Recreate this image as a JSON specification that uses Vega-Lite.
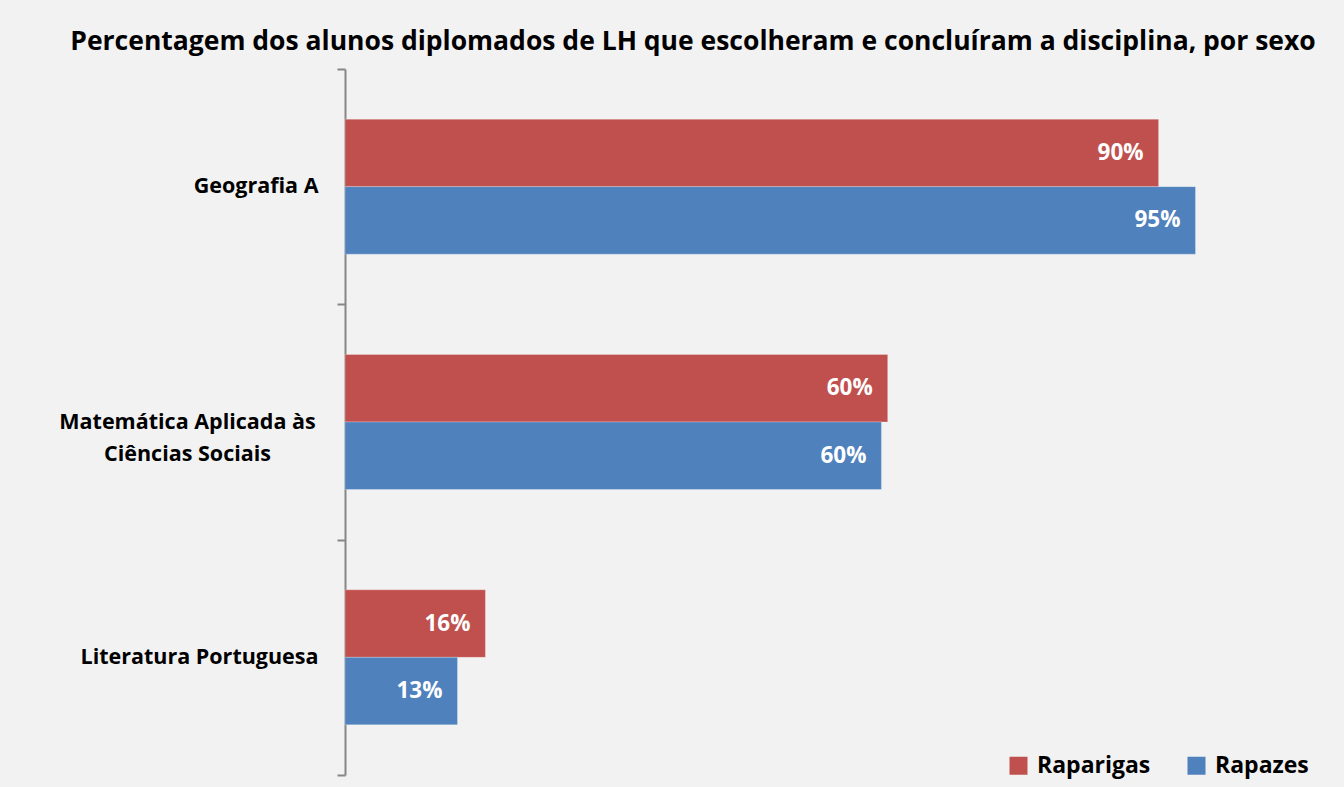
{
  "$schema": "https://vega.github.io/schema/vega-lite/v6.json",
  "width": 900,
  "height": 706,
  "autosize": {"type": "none"},
  "padding": {"left": 345, "top": 69, "right": 99, "bottom": 12},
  "background": "#f2f2f2",
  "config": {
    "view": {"stroke": null},
    "font": "Open Sans"
  },
  "title": {
    "text": "Percentagem dos alunos diplomados de LH que escolheram e concluíram a disciplina, por sexo",
    "font": "Open Sans",
    "fontSize": 26.5,
    "fontWeight": "bold",
    "color": "#000000",
    "anchor": "middle",
    "dx": -102,
    "offset": 3
  },
  "data": {
    "values": [
      {"disciplina": "Geografia A", "sexo": "Raparigas", "valor": 0.904},
      {"disciplina": "Geografia A", "sexo": "Rapazes", "valor": 0.945},
      {"disciplina": "Matemática Aplicada às Ciências Sociais", "sexo": "Raparigas", "valor": 0.603},
      {"disciplina": "Matemática Aplicada às Ciências Sociais", "sexo": "Rapazes", "valor": 0.596},
      {"disciplina": "Literatura Portuguesa", "sexo": "Raparigas", "valor": 0.156},
      {"disciplina": "Literatura Portuguesa", "sexo": "Rapazes", "valor": 0.125}
    ]
  },
  "encoding": {
    "y": {
      "field": "disciplina",
      "type": "nominal",
      "sort": ["Geografia A", "Matemática Aplicada às Ciências Sociais", "Literatura Portuguesa"],
      "scale": {"paddingInner": 0, "paddingOuter": 0},
      "axis": {
        "title": null,
        "domainColor": "#868686",
        "domainWidth": 2,
        "tickColor": "#868686",
        "tickWidth": 2,
        "tickSize": 8,
        "tickBand": "extent",
        "labelFont": "Open Sans",
        "labelFontSize": 21.5,
        "labelFontWeight": "bold",
        "labelColor": "#000000",
        "labelPadding": {"condition": {"test": "datum.value == 'Matemática Aplicada às Ciências Sociais'", "value": 150}, "value": 19},
        "labelLineHeight": 32,
        "labelLimit": 400,
        "labelAlign": {"condition": {"test": "datum.value == 'Matemática Aplicada às Ciências Sociais'", "value": "center"}, "value": "right"},
        "labelExpr": "datum.value == 'Matemática Aplicada às Ciências Sociais' ? ['Matemática Aplicada às', 'Ciências Sociais'] : datum.value"
      }
    },
    "yOffset": {
      "field": "sexo",
      "type": "nominal",
      "sort": ["Raparigas", "Rapazes"],
      "scale": {"paddingInner": 0, "paddingOuter": 0.743}
    },
    "x": {
      "field": "valor",
      "type": "quantitative",
      "scale": {"domain": [0, 1]},
      "axis": null
    }
  },
  "layer": [
    {
      "mark": {"type": "bar", "stroke": "#ffffff", "strokeOpacity": 0.25, "strokeWidth": 1},
      "encoding": {
        "color": {
          "field": "sexo",
          "type": "nominal",
          "sort": ["Raparigas", "Rapazes"],
          "scale": {"domain": ["Raparigas", "Rapazes"], "range": ["#C0504D", "#4F81BD"]},
          "legend": {
            "title": null,
            "orient": "none",
            "direction": "horizontal",
            "legendX": 662,
            "legendY": 685,
            "symbolType": "square",
            "symbolSize": 324,
            "symbolStrokeWidth": 0,
            "symbolOpacity": 1,
            "labelFont": "Open Sans",
            "labelFontSize": 23,
            "labelFontWeight": "bold",
            "labelColor": "#000000",
            "labelOffset": 7,
            "columnPadding": 34
          }
        }
      }
    },
    {
      "mark": {"type": "text", "align": "right", "baseline": "middle", "dx": -15, "color": "#ffffff", "font": "Open Sans", "fontSize": 22.5, "fontWeight": "bold"},
      "encoding": {
        "text": {"field": "valor", "type": "quantitative", "format": ".0%"}
      }
    }
  ]
}
